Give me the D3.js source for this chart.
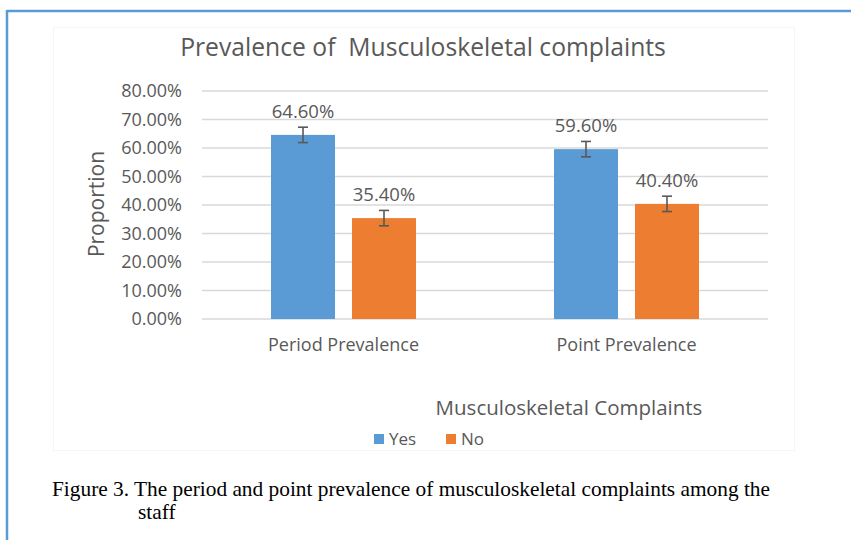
<!DOCTYPE html>
<html><head><meta charset="utf-8">
<script src="https://cdn.jsdelivr.net/npm/d3@7"></script>
<style>html,body{margin:0;padding:0;background:#fff;}</style>
</head><body>
<svg id="chart" width="851" height="540"></svg>
<script>
const categories = ["Period Prevalence", "Point Prevalence"];
const seriesNames = ["Yes", "No"];
const yesValues = [64.6, 59.6];
const noValues = [35.4, 40.4];
const errorValues = [2.7, 2.7];
const yTicks = [0, 10, 20, 30, 40, 50, 60, 70, 80];
const colors = ["#5b9bd5", "#ed7d31"];

const svg = d3.select("#chart");
const font = "'Open Sans', Lato, sans-serif";

// blue frame
svg.append("line").attr("x1", 7).attr("x2", 851).attr("y1", 11).attr("y2", 11).attr("stroke", "#5b9bd5").attr("stroke-width", 2.5);
svg.append("line").attr("x1", 7).attr("x2", 7).attr("y1", 10).attr("y2", 540).attr("stroke", "#5b9bd5").attr("stroke-width", 2.5);
// faint chart area box
svg.append("rect").attr("x", 53.5).attr("y", 27.5).attr("width", 741).attr("height", 423).attr("fill", "none").attr("stroke", "#f5f5f5");

const x0 = d3.scaleBand().domain(categories).range([202, 768]).paddingInner(0).paddingOuter(0);
const x1 = d3.scaleBand().domain(seriesNames).range([0, x0.bandwidth()]).paddingInner(0.21).paddingOuter(0.852);
const y = d3.scaleLinear().domain([0, 80]).range([319, 91]);

// gridlines
svg.append("g").selectAll("line").data(yTicks).join("line")
  .attr("x1", 202).attr("x2", 768)
  .attr("y1", d => y(d)).attr("y2", d => y(d))
  .attr("stroke", "#d9d9d9").attr("stroke-width", 1.3);

// y axis labels
const yAxis = d3.axisLeft(y).tickValues(yTicks).tickFormat(d => d.toFixed(2) + "%").tickSize(0).tickPadding(0);
const yg = svg.append("g").attr("transform", "translate(182,0)").call(yAxis);
yg.select(".domain").remove();
yg.selectAll("text").attr("font-family", font).attr("font-size", 18).attr("fill", "#595959");

// title
svg.append("text").attr("x", 423).attr("y", 56).attr("text-anchor", "middle")
  .attr("font-family", font).attr("font-size", 24.7).attr("fill", "#595959")
  .attr("xml:space", "preserve").text("Prevalence of  Musculoskeletal complaints");

// y title
svg.append("text").attr("transform", "translate(104,204) rotate(-90)").attr("text-anchor", "middle")
  .attr("font-family", font).attr("font-size", 21).attr("fill", "#595959").text("Proportion");

const rows = categories.map((c, i) => ({cat: c, vals: [
  {s: "Yes", v: yesValues[i], e: errorValues[i]},
  {s: "No", v: noValues[i], e: errorValues[i]}]}));

const groups = svg.append("g").selectAll("g").data(rows).join("g")
  .attr("transform", d => `translate(${x0(d.cat)},0)`);

groups.selectAll("rect").data(d => d.vals).join("rect")
  .attr("x", d => x1(d.s)).attr("width", x1.bandwidth())
  .attr("y", d => y(d.v)).attr("height", d => y(0) - y(d.v))
  .attr("fill", (d, i) => colors[i]);

// error bars
const cx = d => x1(d.s) + x1.bandwidth() / 2;
const eb = groups.selectAll("g.err").data(d => d.vals).join("g").attr("class", "err");
eb.append("line").attr("x1", cx).attr("x2", cx)
  .attr("y1", d => y(d.v + d.e)).attr("y2", d => y(d.v - d.e)).attr("stroke", "#595959").attr("stroke-width", 1.6);
eb.append("line").attr("x1", d => cx(d) - 5).attr("x2", d => cx(d) + 5)
  .attr("y1", d => y(d.v + d.e)).attr("y2", d => y(d.v + d.e)).attr("stroke", "#595959").attr("stroke-width", 1.6);
eb.append("line").attr("x1", d => cx(d) - 5).attr("x2", d => cx(d) + 5)
  .attr("y1", d => y(d.v - d.e)).attr("y2", d => y(d.v - d.e)).attr("stroke", "#595959").attr("stroke-width", 1.6);

// data labels
groups.selectAll("text.lbl").data(d => d.vals).join("text").attr("class", "lbl")
  .attr("x", cx).attr("y", d => y(d.v + d.e) - 9)
  .attr("text-anchor", "middle").attr("font-family", font).attr("font-size", 18.5).attr("fill", "#595959")
  .text(d => d.v.toFixed(2) + "%");

// x axis labels
const xAxis = d3.axisBottom(x0).tickSize(0).tickPadding(0);
const xg = svg.append("g").attr("transform", "translate(0,335)").call(xAxis);
xg.select(".domain").remove();
xg.selectAll("text").attr("font-family", font).attr("font-size", 18).attr("fill", "#595959").attr("dy", "0.9em");

// legend
svg.append("text").attr("x", 569).attr("y", 415).attr("text-anchor", "middle")
  .attr("font-family", font).attr("font-size", 20.5).attr("fill", "#595959").text("Musculoskeletal Complaints");
const legX = [374, 446];
seriesNames.forEach((s, i) => {
  svg.append("rect").attr("x", legX[i]).attr("y", 434).attr("width", 10).attr("height", 10).attr("fill", colors[i]);
  svg.append("text").attr("x", legX[i] + 15).attr("y", 445).attr("font-family", font).attr("font-size", 17)
    .attr("fill", "#595959").text(s);
});

// caption
const capFont = "'Liberation Serif', 'Times New Roman', serif";
svg.append("text").attr("x", 52).attr("y", 496).attr("font-family", capFont).attr("font-size", 21.35).attr("fill", "#000")
  .text("Figure 3. The period and point prevalence of musculoskeletal complaints among the");
svg.append("text").attr("x", 138).attr("y", 519).attr("font-family", capFont).attr("font-size", 21.35).attr("fill", "#000")
  .text("staff");
</script>
</body></html>
